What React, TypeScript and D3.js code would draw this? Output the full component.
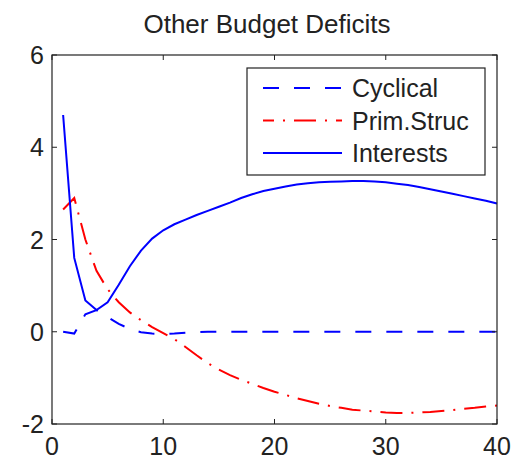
import React from "react";
import * as d3 from "d3";

const periods = d3.range(1, 41);

const cyclical = [
  0, -0.04, 0.38, 0.47, 0.32, 0.17, 0.06, -0.01, -0.04, -0.05,
  -0.04, -0.02, -0.01, 0, 0, 0, 0, 0, 0, 0,
  0, 0, 0, 0, 0, 0, 0, 0, 0, 0,
  0, 0, 0, 0, 0, 0, 0, 0, 0, 0,
];

const primStruc = [
  2.65, 2.9, 2.0, 1.32, 0.92, 0.64, 0.42, 0.25, 0.1, -0.03,
  -0.16, -0.33, -0.51, -0.68, -0.82, -0.94, -1.04, -1.13, -1.22, -1.3,
  -1.37, -1.44, -1.5, -1.56, -1.61, -1.65, -1.69, -1.71, -1.73, -1.75,
  -1.76, -1.76, -1.75, -1.74, -1.72, -1.7, -1.67, -1.65, -1.62, -1.6,
];

const interests = [
  4.7, 1.6, 0.68, 0.47, 0.64, 1.02, 1.42, 1.76, 2.02, 2.2,
  2.33, 2.43, 2.53, 2.62, 2.71, 2.8, 2.9, 2.98, 3.05, 3.1,
  3.15, 3.19, 3.22, 3.24, 3.25, 3.26, 3.27, 3.27, 3.26, 3.24,
  3.21, 3.18, 3.14, 3.09, 3.04, 2.99, 2.94, 2.89, 2.84, 2.78,
];

const xTicks = [0, 10, 20, 30, 40];
const yTicks = [-2, 0, 2, 4, 6];

const series = [
  { name: "Cyclical", values: cyclical, color: "#0000ff", dash: "16,15" },
  { name: "Prim.Struc", values: primStruc, color: "#ff0000", dash: "22,9,2,9" },
  { name: "Interests", values: interests, color: "#0000ff", dash: "none" },
];

const font = "'Liberation Sans', Arial, sans-serif";

export default function App() {
  const width = 517;
  const height = 463;
  const left = 52;
  const right = 497;
  const top = 55;
  const bottom = 424;

  const x = d3.scaleLinear().domain([0, 40]).range([left, right]);
  const y = d3.scaleLinear().domain([-2, 6]).range([bottom, top]);

  const line = d3
    .line<number>()
    .x((_, i) => x(periods[i]))
    .y((d) => y(d));

  const tick = 5;

  return (
    <svg
      width={width}
      height={height}
      style={{ position: "absolute", left: 0, top: 0, background: "#fff" }}
      fontFamily={font}
    >
      <rect x={0} y={0} width={width} height={height} fill="#fff" />
      <text x={267} y={33} textAnchor="middle" fontSize={26} fill="#222">
        Other Budget Deficits
      </text>

      {series.map((s) => (
        <path
          key={s.name}
          d={line(s.values) || ""}
          fill="none"
          stroke={s.color}
          strokeWidth={2}
          strokeDasharray={s.dash}
        />
      ))}

      {/* frame */}
      <rect
        x={left}
        y={top}
        width={right - left}
        height={bottom - top}
        fill="none"
        stroke="#222"
        strokeWidth={1.2}
      />

      {xTicks.map((t) => (
        <g key={"x" + t}>
          <line x1={x(t)} x2={x(t)} y1={bottom} y2={bottom - tick} stroke="#222" />
          <line x1={x(t)} x2={x(t)} y1={top} y2={top + tick} stroke="#222" />
          <text x={x(t)} y={455} textAnchor="middle" fontSize={25} fill="#222">
            {t}
          </text>
        </g>
      ))}

      {yTicks.map((t) => (
        <g key={"y" + t}>
          <line x1={left} x2={left + tick} y1={y(t)} y2={y(t)} stroke="#222" />
          <line x1={right} x2={right - tick} y1={y(t)} y2={y(t)} stroke="#222" />
          <text
            x={44}
            y={y(t) + 9}
            textAnchor="end"
            fontSize={25}
            fill="#222"
          >
            {t}
          </text>
        </g>
      ))}

      {/* legend */}
      <rect x={247} y={68} width={238} height={107} fill="#fff" stroke="#222" strokeWidth={1.2} />
      {series.map((s, i) => {
        const cy = 88 + i * 32.5;
        return (
          <g key={"leg" + s.name}>
            <line
              x1={263}
              x2={342}
              y1={cy}
              y2={cy}
              stroke={s.color}
              strokeWidth={2}
              strokeDasharray={s.dash}
              strokeDashoffset={s.dash === "22,9,2,9" ? 11 : 0}
            />
            <text x={352} y={cy + 9} fontSize={25} fill="#222">
              {s.name}
            </text>
          </g>
        );
      })}
    </svg>
  );
}
